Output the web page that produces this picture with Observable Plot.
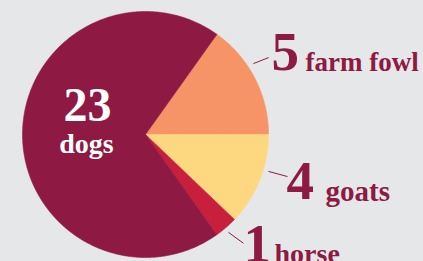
<!DOCTYPE html>
<html><head><meta charset="utf-8">
<script src="https://cdn.jsdelivr.net/npm/d3@7"></script>
<script src="https://cdn.jsdelivr.net/npm/@observablehq/plot@0.6"></script>
<style>
html,body{margin:0;padding:0;background:#e6e7e8;}
#chart svg{display:block;}
</style>
</head><body><div id="chart"></div>
<script>
// data
const categories = ["farm fowl", "goats", "horse", "dogs"];
const values = [5, 4, 1, 23];

// style
const colors = ["#f79467", "#fed880", "#c8203c", "#8e1943"];
const ink = "#8e1943";
const W = 423, H = 261;
const pie = {cx: 145, cy: 134, r: 123, startDeg: 35.5};

// label layout (pixel space)
const labelLayout = [
  {cat: "farm fowl", numX: 271, numY: 69.5, wordX: 305, wordY: 70, wordSize: 27, l0: [56.7, 1.05], l1: [58, 1.18]},
  {cat: "goats", numX: 286, numY: 198, wordX: 325, wordY: 200, wordSize: 29, l0: [106.7, 1.044], l1: [106.5, 1.204]},
  {cat: "horse", numX: 243, numY: 261.5, wordX: 274, wordY: 262, wordSize: 28, l0: [139.7, 1.044], l1: [138, 1.19]}
];
const inside = {cat: "dogs", x: 87, numY: 120, wordY: 152};

const rad = d => d * Math.PI / 180;
const arcs = d3.pie().sort(null)
  .startAngle(rad(pie.startDeg)).endAngle(rad(pie.startDeg) + 2 * Math.PI)(values);

const pt = (a, k = 1) => ({x: pie.cx + pie.r * k * Math.sin(a), y: pie.cy - pie.r * k * Math.cos(a)});

const sliceMarks = arcs.map((a, i) => {
  const pts = [pt(0, 0)];
  const n = Math.max(4, Math.ceil((a.endAngle - a.startAngle) / 0.01));
  for (let j = 0; j <= n; j++) pts.push(pt(a.startAngle + (a.endAngle - a.startAngle) * j / n));
  pts.push(pt(0, 0));
  return Plot.line(pts, {x: "x", y: "y", fill: colors[i], stroke: colors[i], strokeWidth: 0.6, curve: "linear"});
});

const leaders = labelLayout.map(l => {
  const p0 = pt(rad(l.l0[0]), l.l0[1]), p1 = pt(rad(l.l1[0]), l.l1[1]);
  return {x1: p0.x, y1: p0.y, x2: p1.x, y2: p1.y};
});

const numLabels = labelLayout.map(l => ({x: l.numX, y: l.numY, t: String(values[categories.indexOf(l.cat)])}));
const wordLabels = labelLayout.map(l => ({x: l.wordX, y: l.wordY, t: l.cat, s: l.wordSize}));

const font = "'Liberation Serif', 'Times New Roman', serif";

const chart = Plot.plot({
  width: W, height: H,
  margin: 0,
  x: {domain: [0, W], range: [0, W], axis: null},
  y: {domain: [0, H], range: [0, H], axis: null},
  style: {background: "#e6e7e8", fontFamily: font},
  marks: [
    ...sliceMarks,
    Plot.link(leaders, {x1: "x1", y1: "y1", x2: "x2", y2: "y2", stroke: ink, strokeWidth: 1}),
    Plot.text(numLabels, {x: "x", y: "y", text: "t", fill: ink, fontSize: 55, fontWeight: "bold", textAnchor: "start", lineAnchor: "bottom"}),
    ...wordLabels.map(w => Plot.text([w], {x: "x", y: "y", text: "t", fill: ink, fontSize: w.s, fontWeight: "bold", textAnchor: "start", lineAnchor: "bottom"})),
    Plot.text([{x: inside.x, y: inside.numY, t: String(values[categories.indexOf("dogs")])}], {x: "x", y: "y", text: "t", fill: "white", fontSize: 48, fontWeight: "bold", textAnchor: "middle", lineAnchor: "bottom"}),
    Plot.text([{x: inside.x - 1, y: inside.wordY, t: inside.cat}], {x: "x", y: "y", text: "t", fill: "white", fontSize: 28, fontWeight: "bold", textAnchor: "middle", lineAnchor: "bottom"})
  ]
});
document.getElementById("chart").append(chart);
</script>
</body></html>
